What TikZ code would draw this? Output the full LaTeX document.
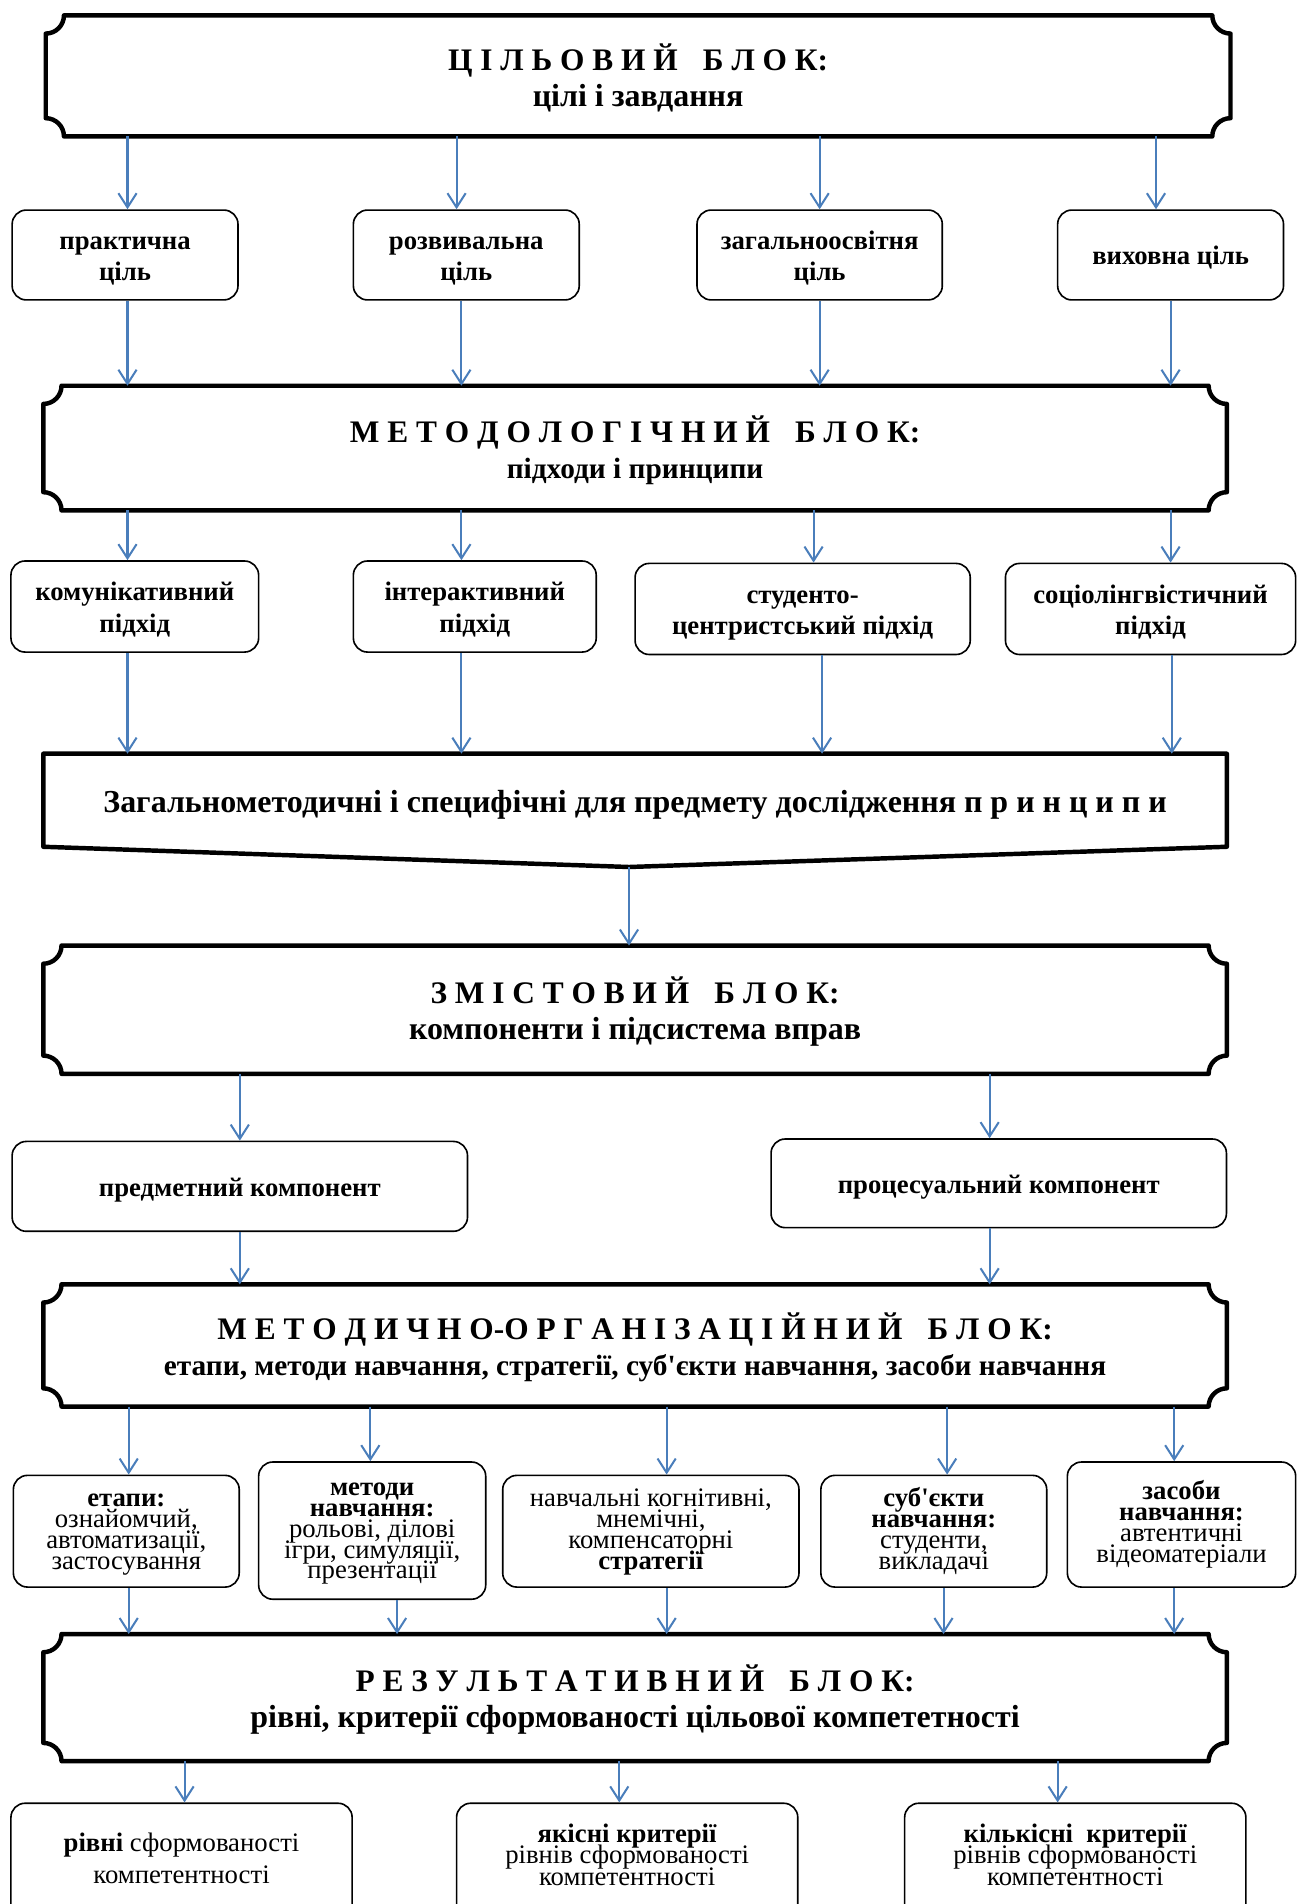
\documentclass[tikz,border=0pt]{standalone}
\usepackage{fontspec}
\setmainfont{Liberation Serif}
\usetikzlibrary{arrows.meta,calc}
\definecolor{arrblue}{HTML}{4A7EBB}
\newcommand\ttlf{\fontsize{15.5}{18}\selectfont}
\newcommand\subf[1]{\fontsize{#1}{18}\selectfont}
\newcommand\sta[3]{\rule{0pt}{#1}#3\rule[-#2]{0pt}{#2}}
\newcommand\stB[1]{\sta{15.3pt}{2.7pt}{#1}}
\newcommand\stR[1]{\sta{12.7pt}{2.9pt}{#1}}
\newcommand\stE[1]{\sta{9.4pt}{0.9pt}{#1}}
\newcommand\plaq[1]{\draw[blkline] ([xshift=9pt]#1.north west) -- ([xshift=-9pt]#1.north east) arc[start angle=180,end angle=270,radius=9pt] -- ([yshift=9pt]#1.south east) arc[start angle=90,end angle=180,radius=9pt] -- ([xshift=9pt]#1.south west) arc[start angle=0,end angle=90,radius=9pt] -- ([yshift=-9pt]#1.north west) arc[start angle=270,end angle=360,radius=9pt] -- cycle;}
\tikzset{
 sz/.style 2 args={minimum width=#1*0.6pt, minimum height=#2*0.6pt},
 blk/.style={inner sep=0pt, align=center, font=\bfseries\fontsize{15.5}{18}\selectfont},
 blkline/.style={line width=2.2pt, line join=round},
 rbox/.style={draw, line width=0.8pt, rounded corners=7pt, align=center, inner sep=2pt, font=\bfseries\fontsize{13.2}{15.6}\selectfont},
 sbox/.style={rbox, font={\fontsize{13.2}{10.3}\selectfont\lineskiplimit=-20pt}},
 lbl5/.style={align=center, inner sep=0pt, yshift=12pt, font={\fontsize{13.2}{10.8}\selectfont\lineskiplimit=-20pt}},
 lbl5a/.style={lbl5, yshift=-1.5pt, font={\fontsize{13.2}{15.6}\selectfont}},
 arr/.style={draw=arrblue, line width=1pt, -{Straight Barb[length=7pt,width=9pt]}},
}
\begin{document}
\begin{tikzpicture}[x=0.6pt,y=-0.6pt]
\begin{scope}
\clip (0,0) rectangle (1068,1568);
% ---- block 1
\node[blk, sz={975}{99}] (b1) at (525.5,62.5) {\stB{\ttlf Ц І Л Ь О В И Й\hspace{0.8em}Б Л О К:\\\subf{15.8}цілі і завдання}};
\plaq{b1}
% ---- row 1
\node[rbox, sz={186}{74}] (g1) at (103,210) {\stR{практична\\ціль}};
\node[rbox, sz={186}{74}] (g2) at (384,210) {\stR{розвивальна\\ціль}};
\node[rbox, sz={202}{74}] (g3) at (675,210) {\stR{загальноосвітня\\ціль}};
\node[rbox, sz={186}{74}] (g4) at (964,210) {\stR{виховна ціль}};
% ---- block 2
\node[blk, sz={974}{102}] (b2) at (523,369) {\stB{\ttlf М Е Т О Д О Л О Г І Ч Н И Й\hspace{0.8em}Б Л О К:\\\subf{14.5}підходи і принципи}};
\plaq{b2}
\draw[arr] ([xshift=1.2pt]g1.north |- b1.south) -- ([xshift=1.2pt]g1.north);
\draw[arr] ([xshift=-4.8pt]g2.north |- b1.south) -- ([xshift=-4.8pt]g2.north);
\draw[arr] (g3.north |- b1.south) -- (g3.north);
\draw[arr] ([xshift=-7.2pt]g4.north |- b1.south) -- ([xshift=-7.2pt]g4.north);
\draw[arr] ([xshift=1.2pt]g1.south) -- ([xshift=1.2pt]g1.south |- b2.north);
\draw[arr] ([xshift=-2.4pt]g2.south) -- ([xshift=-2.4pt]g2.south |- b2.north);
\draw[arr] (g3.south) -- (g3.south |- b2.north);
\draw[arr] (g4.south) -- (g4.south |- b2.north);
% ---- row 2
\node[rbox, sz={204}{75}] (a1) at (111,499.5) {\stR{комунікативний\\підхід}};
\node[rbox, sz={200}{75}] (a2) at (391,499.5) {\stR{інтерактивний\\підхід}};
\node[rbox, sz={276}{75}] (a3) at (661,501.5) {\stR{студенто-\\центристський підхід}};
\node[rbox, sz={239}{75}] (a4) at (947.5,501.5) {\stR{соціолінгвістичний\\підхід}};
\draw[arr] ([xshift=-3.6pt]a1.north |- b2.south) -- ([xshift=-3.6pt]a1.north);
\draw[arr] ([xshift=-6.6pt]a2.north |- b2.south) -- ([xshift=-6.6pt]a2.north);
\draw[arr] ([xshift=5.4pt]a3.north |- b2.south) -- ([xshift=5.4pt]a3.north);
\draw[arr] ([xshift=9.9pt]a4.north |- b2.south) -- ([xshift=9.9pt]a4.north);
% ---- block 3
\node[blk, sz={974}{76}] (b3) at (523,659) {\raisebox{-6pt}[0pt][0pt]{\fontsize{15.8}{18}\selectfont Загальнометодичні і специфічні для предмету дослідження п р и н ц и п и}};
\coordinate (b3tip) at (518,714);
\draw[blkline] (b3.north west) -- (b3.north east) -- (b3.south east) -- (b3tip) -- (b3.south west) -- cycle;
\draw[arr] ([xshift=-3.6pt]a1.south) -- ([xshift=-3.6pt]a1.south |- b3.north);
\draw[arr] ([xshift=-6.6pt]a2.south) -- ([xshift=-6.6pt]a2.south |- b3.north);
\draw[arr] ([xshift=9.6pt]a3.south) -- ([xshift=9.6pt]a3.south |- b3.north);
\draw[arr] ([xshift=10.5pt]a4.south) -- ([xshift=10.5pt]a4.south |- b3.north);
% ---- block 4
\node[blk, sz={974}{105}] (b4) at (523,831.5) {\stB{\ttlf З М І С Т О В И Й\hspace{0.8em}Б Л О К:\\\subf{15.8}компоненти і підсистема вправ}};
\plaq{b4}
\draw[arr] (b3tip) -- (b3tip |- b4.north);
% ---- row 3
\node[rbox, sz={375}{74}] (p1) at (197.5,977) {\stR{предметний компонент}};
\node[rbox, sz={375}{73}] (p2) at (822.5,974.5) {\stR{процесуальний компонент}};
\draw[arr] (p1.north |- b4.south) -- (p1.north);
\draw[arr] ([xshift=-4.5pt]p2.north |- b4.south) -- ([xshift=-4.5pt]p2.north);
% ---- block 5
\node[blk, sz={974}{100}] (b5) at (523,1108) {\stB{\ttlf М Е Т О Д И Ч Н О-О Р Г А Н І З А Ц І Й Н И Й\hspace{0.8em}Б Л О К:\\\subf{14.5}етапи, методи навчання, стратегії, суб\textquotesingle єкти навчання, засоби навчання}};
\plaq{b5}
\draw[arr] (p1.south) -- (p1.south |- b5.north);
\draw[arr] ([xshift=-4.5pt]p2.south) -- ([xshift=-4.5pt]p2.south |- b5.north);
% ---- row 4
\node[sbox, sz={186}{92}] (e1) at (104,1261) {\stE{\textbf{етапи:}\\ознайомчий,\\автоматизації,\\застосування}};
\node[sbox, sz={187}{113}] (e2) at (306.5,1260.5) {\stE{\textbf{методи}\\\textbf{навчання:}\\рольові, ділові\\ігри, симуляції,\\презентації}};
\node[sbox, sz={244}{92}] (e3) at (536,1261) {\stE{навчальні когнітивні,\\мнемічні,\\компенсаторні\\\textbf{стратегії}}};
\node[sbox, sz={186}{92}] (e4) at (769,1261) {\stE{\textbf{суб\textquotesingle єкти}\\\textbf{навчання:}\\студенти,\\викладачі}};
\node[sbox, sz={188}{103}] (e5) at (973,1255.5) {\strut\textbf{засоби}\\\textbf{навчання:}\\автентичні\\відеоматеріали\strut};
\draw[arr] ([xshift=1.2pt]e1.north |- b5.south) -- ([xshift=1.2pt]e1.north);
\draw[arr] ([xshift=-0.9pt]e2.north |- b5.south) -- ([xshift=-0.9pt]e2.north);
\draw[arr] ([xshift=7.8pt]e3.north |- b5.south) -- ([xshift=7.8pt]e3.north);
\draw[arr] ([xshift=6.6pt]e4.north |- b5.south) -- ([xshift=6.6pt]e4.north);
\draw[arr] ([xshift=-3.6pt]e5.north |- b5.south) -- ([xshift=-3.6pt]e5.north);
% ---- block 6
\node[blk, sz={974}{104}] (b6) at (523,1398) {\stB{\ttlf Р Е З У Л Ь Т А Т И В Н И Й\hspace{0.8em}Б Л О К:\\\subf{15.8}рівні, критерії сформованості цільової компететності}};
\plaq{b6}
\draw[arr] ([xshift=1.2pt]e1.south) -- ([xshift=1.2pt]e1.south |- b6.north);
\draw[arr] ([xshift=12.3pt]e2.south) -- ([xshift=12.3pt]e2.south |- b6.north);
\draw[arr] ([xshift=7.8pt]e3.south) -- ([xshift=7.8pt]e3.south |- b6.north);
\draw[arr] ([xshift=4.8pt]e4.south) -- ([xshift=4.8pt]e4.south |- b6.north);
\draw[arr] ([xshift=-3.6pt]e5.south) -- ([xshift=-3.6pt]e5.south |- b6.north);
% ---- row 5
\node[rbox, sz={281}{130}, label={[lbl5a]center:{\strut\textbf{рівні} сформованості\\компетентності\strut}}] (r1) at (149.5,1550) {};
\node[rbox, sz={281}{130}, label={[lbl5]center:{\strut\textbf{якісні критерії}\\рівнів сформованості\\компетентності\strut}}] (r2) at (516.5,1550) {};
\node[rbox, sz={281}{130}, label={[lbl5]center:{\strut\textbf{кількісні\ \ критерії}\\рівнів сформованості\\компетентності\strut}}] (r3) at (885.5,1550) {};
\draw[arr] ([xshift=1.5pt]r1.north |- b6.south) -- ([xshift=1.5pt]r1.north);
\draw[arr] ([xshift=-3.9pt]r2.north |- b6.south) -- ([xshift=-3.9pt]r2.north);
\draw[arr] ([xshift=-8.7pt]r3.north |- b6.south) -- ([xshift=-8.7pt]r3.north);
\end{scope}
\pgfresetboundingbox
\useasboundingbox (0,0) rectangle (1068,1568);
\end{tikzpicture}
\end{document}
